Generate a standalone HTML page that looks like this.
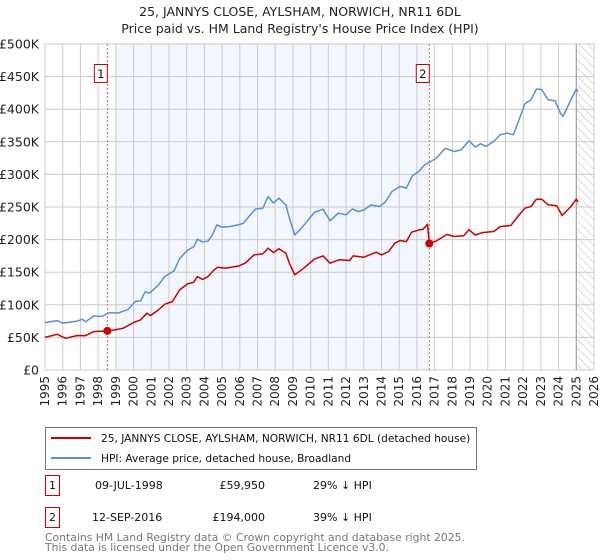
<!DOCTYPE html>
<html><head><meta charset="utf-8">
<style>
body{margin:0;background:#fff;font-family:"DejaVu Sans","Liberation Sans",sans-serif;}
svg{display:block}
</style></head>
<body>
<svg id="chart" width="600" height="560" xmlns="http://www.w3.org/2000/svg" font-family="DejaVu Sans, Liberation Sans, sans-serif">
<text x="300" y="16" text-anchor="middle" font-size="12.5" fill="#222">25, JANNYS CLOSE, AYLSHAM, NORWICH, NR11 6DL</text>
<text x="300" y="33" text-anchor="middle" font-size="12.5" fill="#222">Price paid vs. HM Land Registry's House Price Index (HPI)</text>
<g id="plot"></g>
<g>
<rect x="45.5" y="427.5" width="431" height="42" fill="#fff" stroke="#777"/>
<line x1="51" y1="438" x2="91" y2="438" stroke="#cc0000" stroke-width="2"/>
<text x="101" y="442" font-size="10.6" fill="#111">25, JANNYS CLOSE, AYLSHAM, NORWICH, NR11 6DL (detached house)</text>
<line x1="51" y1="458" x2="91" y2="458" stroke="#5b8fd4" stroke-width="2"/>
<text x="101" y="462" font-size="10.6" fill="#111">HPI: Average price, detached house, Broadland</text>
</g>
<g font-size="11" fill="#111">
<rect x="45.5" y="475.5" width="14" height="20" fill="#fff" stroke="#cc0000"/>
<text x="52.5" y="489" text-anchor="middle">1</text>
<text x="95" y="489">09-JUL-1998</text>
<text x="265" y="489" text-anchor="end">£59,950</text>
<text x="313" y="489">29% ↓ HPI</text>
<rect x="45.5" y="507.5" width="14" height="20" fill="#fff" stroke="#cc0000"/>
<text x="52.5" y="521" text-anchor="middle">2</text>
<text x="92" y="521">12-SEP-2016</text>
<text x="265" y="521" text-anchor="end">£194,000</text>
<text x="313" y="521">39% ↓ HPI</text>
</g>
<g font-size="10.8" fill="#777">
<text x="45" y="541">Contains HM Land Registry data © Crown copyright and database right 2025.</text>
<text x="45" y="551">This data is licensed under the Open Government Licence v3.0.</text>
</g>
</svg>
<script>
const hpiYears=[1995,1995.7,1996,1996.8,1997.1,1997.3,1997.75,1998.2,1998.6,1999.15,1999.7,2000.1,2000.4,2000.65,2000.9,2001.4,2001.75,2002.3,2002.6,2003.05,2003.4,2003.6,2003.9,2004.2,2004.45,2004.7,2005,2005.4,2005.9,2006.2,2006.5,2006.9,2007.3,2007.6,2007.9,2008.2,2008.6,2008.8,2009.1,2009.4,2009.8,2010.2,2010.7,2011.1,2011.55,2012,2012.35,2012.7,2013,2013.4,2013.9,2014.2,2014.6,2015.05,2015.4,2015.75,2016.1,2016.45,2016.8,2017.1,2017.6,2018.1,2018.5,2018.95,2019.3,2019.6,2019.9,2020.35,2020.7,2021.1,2021.45,2021.8,2022.1,2022.45,2022.75,2023.05,2023.4,2023.8,2024.1,2024.25,2024.7,2025,2025.1];
const hpiValues=[72.7,75.7,71.6,75,77.8,74,83,82,87.5,87.5,93,105,106,120,118,130,143,152.5,171,184,189,200.6,196.5,197.5,207,222.6,219,220,222.6,225,235,247,248,266,256,263.5,253,233,207,215,228,241.6,246.7,229,240.5,238,247,243,245.6,253,250.8,257,274,281.5,279,298,304.5,315,320,325,340,335,337.8,351.6,341.9,347,343,350.6,360.8,363.3,360.8,386.4,408.4,414.5,431,430,414.5,413,394,389,414.5,431,427];
const priceYears=[1995,1995.7,1996.15,1996.8,1997.3,1997.75,1998.52,1998.9,1999.4,2000,2000.4,2000.75,2000.95,2001.4,2001.75,2002.2,2002.6,2003.05,2003.4,2003.6,2003.9,2004.2,2004.55,2004.75,2005.2,2005.95,2006.3,2006.8,2007.3,2007.6,2007.9,2008.2,2008.6,2008.8,2009.1,2009.6,2010.2,2010.7,2011.1,2011.6,2012.2,2012.4,2013,2013.7,2014,2014.4,2014.75,2015.05,2015.4,2015.7,2016.15,2016.35,2016.6,2016.7,2017.1,2017.7,2018.1,2018.65,2018.95,2019.3,2019.7,2020.35,2020.7,2021.3,2021.7,2022.1,2022.45,2022.75,2023.05,2023.4,2023.9,2024.2,2024.7,2025,2025.1];
const priceValues=[50,54.8,48.6,52.7,52.7,58.9,59.95,61.4,64,72.7,76.8,87,83.4,92,100.8,105,122.8,132,134.6,143.3,139,143.3,153.5,157.6,156,159.7,163.8,176.6,178,186.8,180,186,179,163.8,146,156,170,175,163.8,169,167.9,175,173,180.6,176.6,181.7,194.5,198.6,197,211.4,215,216,223.6,194,198,208,204.7,206,215,207,210.8,212.4,220,221.6,235.4,248.2,250.8,262,262,253.3,251.8,237,250.8,262,257.5];
const saleYears=[1998.52,2016.70];
const saleValues=[59.95,194];
const saleLabels=["1","2"];
const yTicks=[0,50,100,150,200,250,300,350,400,450,500];
const yTickLabels=["£0","£50K","£100K","£150K","£200K","£250K","£300K","£350K","£400K","£450K","£500K"];
const xTicks=[1995,1996,1997,1998,1999,2000,2001,2002,2003,2004,2005,2006,2007,2008,2009,2010,2011,2012,2013,2014,2015,2016,2017,2018,2019,2020,2021,2022,2023,2024,2025,2026];

const L=45,R=594,T=44,B=370,X0=1995,X1=2026,YMAX=500;
const xs=v=>L+(v-X0)/(X1-X0)*(R-L);
const ys=v=>B-v/YMAX*(B-T);
const NS="http://www.w3.org/2000/svg";
const g=document.getElementById('plot');
function mk(tag,attrs,parent){const e=document.createElementNS(NS,tag);for(const k in attrs)e.setAttribute(k,attrs[k]);(parent||g).appendChild(e);return e;}

const bg=mk('rect',{x:L,y:T,width:R-L,height:B-T,fill:'#fff'});


const shade=mk('rect',{x:xs(1999),y:T,width:xs(saleYears[1])-xs(1999),height:B-T,fill:'#eef3fc',opacity:0.75});


const defs=mk('defs',{});
const pat=mk('pattern',{id:'hatch',width:6,height:6,patternUnits:'userSpaceOnUse',patternTransform:'rotate(-45)'},defs);
mk('line',{x1:0,y1:0,x2:0,y2:6,stroke:'#bbb','stroke-width':1},pat);
const hatch=mk('rect',{x:xs(2025),y:T,width:R-xs(2025),height:B-T,fill:'url(#hatch)'});



xTicks.forEach((t,i)=>{
  const l=mk('line',{x1:xs(t),y1:T,x2:xs(t),y2:B,stroke:'#ccc','stroke-width':1});
  
  
  const tx=mk('text',{x:0,y:0,transform:`translate(${xs(t)+4},${B+6}) rotate(-90)`,'text-anchor':'end','font-size':12,fill:'#222'});
  tx.textContent=t;
  
  
});
yTicks.forEach((t,i)=>{
  const l=mk('line',{x1:L,y1:ys(t),x2:R,y2:ys(t),stroke:'#ccc','stroke-width':1});
  
  
  const tx=mk('text',{x:L-6,y:ys(t)+4.5,'text-anchor':'end','font-size':12.5,fill:'#222'});
  tx.textContent=yTickLabels[i];
  
  
});
const nowLine=mk('line',{x1:xs(2025),y1:T,x2:xs(2025),y2:B,stroke:'#999','stroke-width':1});



saleYears.forEach((y,i)=>{
  const l=mk('line',{x1:xs(y),y1:T,x2:xs(y),y2:B,stroke:'#e06060','stroke-width':1,'stroke-dasharray':'2,2'});
  
  
});

function path(xa,va,color,name){
  const d=xa.map((x,i)=>(i?'L':'M')+xs(x).toFixed(1)+','+ys(va[i]).toFixed(1)).join('');
  const p=mk('path',{d,fill:'none',stroke:color,'stroke-width':1.5,'stroke-linejoin':'round'});
  
  
}
path(hpiYears,hpiValues,'#5b8fd4','hpi-line');
path(priceYears,priceValues,'#cc0000','price-line');

saleYears.forEach((y,i)=>{
  const c=mk('circle',{cx:xs(y),cy:ys(saleValues[i]),r:4,fill:'#cc0000'});
  
  
  const bx=xs(y)-9-4;
  const r=mk('rect',{x:bx,y:T+20.5,width:13,height:18,fill:'#fff',stroke:'#cc0000'});
  
  
  const t=mk('text',{x:bx+6.5,y:T+34,'text-anchor':'middle','font-size':11.5,fill:'#111'});
  t.textContent=saleLabels[i];
  
  
});
</script>
</body></html>
